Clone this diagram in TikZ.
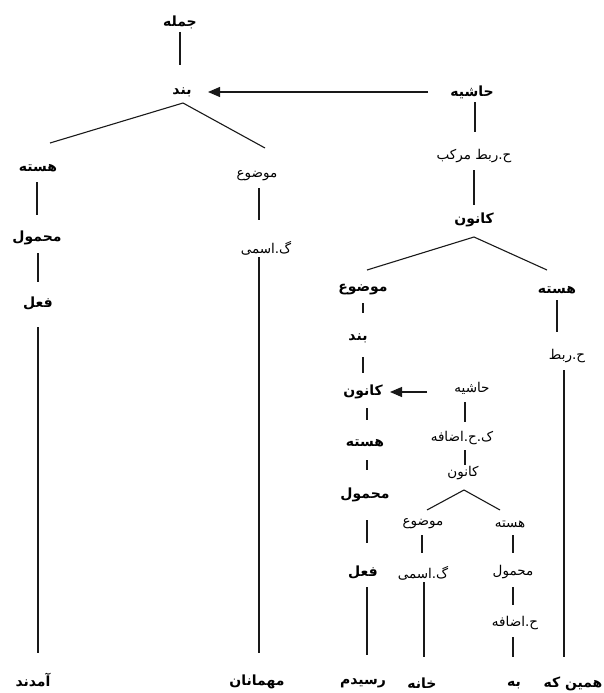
\documentclass[tikz,border=0pt]{standalone}
\usepackage{fontspec}
\usetikzlibrary{arrows.meta}
\TeXXeTstate=1
\newfontfamily\arabicfont[Script=Arabic]{DejaVu Sans}
\newcommand{\faLabel}[1]{\arabicfont\beginR #1\endR}
\begin{document}
\begin{tikzpicture}[x=1pt,y=-1pt,
  lbl/.style={inner sep=0pt, font=\fontsize{13.5}{15}\selectfont},
  blbl/.style={lbl, font=\fontsize{14}{16}\selectfont\bfseries},
  edge/.style={line width=1.1pt, draw=black!90},
  pointer/.style={edge, -{Triangle[length=12pt,width=10pt]}}]
\useasboundingbox (0,0) rectangle (603,693);

% main clause
\node[blbl] (jomle)    at (180,22)  {\faLabel{جمله}};
\node[blbl] (band1)    at (182,92)  {\faLabel{بند}};
\node[blbl] (hashie1)  at (472,92)  {\faLabel{حاشیه}};
\node[lbl]  (hrm)      at (474,156) {\faLabel{ح.ربط مرکب}};
\node[blbl] (kanun1)   at (474,220) {\faLabel{کانون}};
\node[blbl] (hasteL)   at (38,168)  {\faLabel{هسته}};
\node[blbl] (mahmulL)  at (37,238)  {\faLabel{محمول}};
\node[blbl] (feelL)    at (38,303)  {\faLabel{فعل}};
\node[blbl] (amadand)  at (33,680)  {\faLabel{آمدند}};
\node[lbl]  (mozuL)    at (257,176) {\faLabel{موضوع}};
\node[lbl]  (gesmiL)   at (266,248) {\faLabel{گ.اسمی}};
\node[blbl] (mehmanan) at (257,682) {\faLabel{مهمانان}};

% subordinate clause
\node[blbl] (mozuM)    at (363,290) {\faLabel{موضوع}};
\node[blbl] (band2)    at (358,338) {\faLabel{بند}};
\node[blbl] (kanun2)   at (363,392) {\faLabel{کانون}};
\node[blbl] (hasteM)   at (365,443) {\faLabel{هسته}};
\node[blbl] (mahmulM)  at (365,495) {\faLabel{محمول}};
\node[blbl] (feelM)    at (363,572) {\faLabel{فعل}};
\node[blbl] (residam)  at (363,683) {\faLabel{رسیدم}};
\node[blbl] (hasteR)   at (557,290) {\faLabel{هسته}};
\node[lbl]  (hrabt)    at (567,356) {\faLabel{ح.ربط}};
\node[blbl] (hamin)    at (573,684) {\faLabel{همین که}};

% prepositional adjunct
\node[lbl]  (hashie2)  at (472,388) {\faLabel{حاشیه}};
\node[lbl]  (kchez)    at (462,438) {\faLabel{ک.ح.اضافه}};
\node[lbl]  (kanun3)   at (463,473) {\faLabel{کانون}};
\node[lbl]  (mozuS)    at (423,524) {\faLabel{موضوع}};
\node[lbl]  (gesmiS)   at (423,573) {\faLabel{گ.اسمی}};
\node[blbl] (khane)    at (422,683) {\faLabel{خانه}};
\node[lbl]  (hasteS)   at (510,524) {\faLabel{هسته}};
\node[lbl]  (mahmulS)  at (513,572) {\faLabel{محمول}};
\node[lbl]  (hezafe)   at (515,623) {\faLabel{ح.اضافه}};
\node[blbl] (be)       at (514,685) {\faLabel{به}};

% connectors of the main clause
\draw[edge] ([shift={(0,10)}]jomle.center) -- ([shift={(-2,-27)}]band1.center);
\draw[pointer] ([shift={(-44,0)}]hashie1.center) -- ([shift={(26,0)}]band1.center);
\draw[edge] ([shift={(12,-25)}]hasteL.center) -- ([shift={(1,11)}]band1.center)
            -- ([shift={(8,-28)}]mozuL.center);
\draw[edge] ([shift={(-1,14)}]hasteL.center) -- ([shift={(0,-23)}]mahmulL.center);
\draw[edge] ([shift={(1,15)}]mahmulL.center) -- ([shift={(0,-21)}]feelL.center);
\draw[edge] ([shift={(0,24)}]feelL.center) -- ([shift={(5,-27)}]amadand.center);
\draw[edge] ([shift={(2,12)}]mozuL.center) -- ([shift={(-7,-28)}]gesmiL.center);
\draw[edge] ([shift={(-7,9)}]gesmiL.center) -- ([shift={(2,-29)}]mehmanan.center);
\draw[edge] ([shift={(3,10)}]hashie1.center) -- ([shift={(1,-24)}]hrm.center);
\draw[edge] ([shift={(0,14)}]hrm.center) -- ([shift={(0,-15)}]kanun1.center);

% connectors of the subordinate clause
\draw[edge] ([shift={(4,-20)}]mozuM.center) -- ([shift={(0,17)}]kanun1.center)
            -- ([shift={(-10,-20)}]hasteR.center);
\draw[edge] ([shift={(0,13)}]mozuM.center) -- ([shift={(5,-25)}]band2.center);
\draw[edge] ([shift={(5,19)}]band2.center) -- ([shift={(0,-19)}]kanun2.center);
\draw[edge] ([shift={(4,16)}]kanun2.center) -- ([shift={(2,-23)}]hasteM.center);
\draw[edge] ([shift={(2,17)}]hasteM.center) -- ([shift={(2,-25)}]mahmulM.center);
\draw[edge] ([shift={(2,25)}]mahmulM.center) -- ([shift={(4,-29)}]feelM.center);
\draw[edge] ([shift={(4,15)}]feelM.center) -- ([shift={(4,-28)}]residam.center);
\draw[edge] ([shift={(0,10)}]hasteR.center) -- ([shift={(-10,-24)}]hrabt.center);
\draw[edge] ([shift={(-3,14)}]hrabt.center) -- ([shift={(-9,-27)}]hamin.center);

% connectors of the prepositional adjunct
\draw[pointer] ([shift={(-45,4)}]hashie2.center) -- ([shift={(27,0)}]kanun2.center);
\draw[edge] ([shift={(-7,14)}]hashie2.center) -- ([shift={(3,-16)}]kchez.center);
\draw[edge] ([shift={(3,12)}]kchez.center) -- ([shift={(2,-8)}]kanun3.center);
\draw[edge] ([shift={(4,-14)}]mozuS.center) -- ([shift={(1,17)}]kanun3.center)
            -- ([shift={(-10,-14)}]hasteS.center);
\draw[edge] ([shift={(-1,11)}]mozuS.center) -- ([shift={(-1,-20)}]gesmiS.center);
\draw[edge] ([shift={(1,9)}]gesmiS.center) -- ([shift={(2,-26)}]khane.center);
\draw[edge] ([shift={(3,11)}]hasteS.center) -- ([shift={(0,-19)}]mahmulS.center);
\draw[edge] ([shift={(0,15)}]mahmulS.center) -- ([shift={(-2,-18)}]hezafe.center);
\draw[edge] ([shift={(-2,14)}]hezafe.center) -- ([shift={(-1,-28)}]be.center);
\end{tikzpicture}
\end{document}
